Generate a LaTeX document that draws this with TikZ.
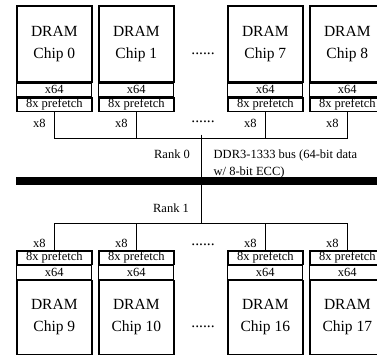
\documentclass[tikz,border=0pt]{standalone}
\usepackage{fontspec}
\setmainfont{Liberation Serif}
\begin{document}
\begin{tikzpicture}[x=1pt,y=-1pt,
  bigf/.style={font=\fontsize{15.5}{21.7}\selectfont},
  smallf/.style={font=\fontsize{12.5}{16.7}\selectfont},
  mainbox/.style={draw,line width=1.6pt,minimum width=75pt,minimum height=76pt,inner sep=0pt,align=center,bigf},
  stripthin/.style={draw,line width=0.9pt,minimum width=75pt,minimum height=13.5pt,inner sep=0pt,smallf},
  stripthick/.style={draw,line width=1.6pt,minimum width=75pt,minimum height=13.5pt,inner sep=0pt,smallf},
  wire/.style={line width=0.9pt},
  lbl/.style={smallf,inner sep=0pt}]
\useasboundingbox (0,0) rectangle (377,354);
% top rank
\foreach \n/\x in {0/16,1/98,7/227,8/309}{
  \node[mainbox,anchor=north west] (m\n) at (\x,5) {DRAM\\Chip \n};
  \node[stripthin,anchor=north] (x\n) at (m\n.south) {x64};
  \node[stripthick,anchor=north] (p\n) at (x\n.south) {8x prefetch};
  \node[lbl] (e\n) at ([xshift=-15pt,yshift=-11pt]p\n.south) {x8};
}
% bottom rank
\foreach \n/\x in {9/16,10/98,16/227,17/309}{
  \node[stripthick,anchor=north west] (p\n) at (\x,250) {8x prefetch};
  \node[stripthin,anchor=north] (x\n) at (p\n.south) {x64};
  \node[mainbox,anchor=north,minimum height=74pt] (m\n) at (x\n.south) {DRAM\\Chip \n};
  \node[lbl] (e\n) at ([xshift=-15pt,yshift=7pt]p\n.north) {x8};
}
% dots
\node[bigf,anchor=base,inner sep=0pt] (d1) at (203,54.5) {......};
\node[bigf,anchor=base,inner sep=0pt] (d2) at (203,122) {......};
\node[bigf,anchor=base,inner sep=0pt] (d3) at (203,245.5) {......};
\node[bigf,anchor=base,inner sep=0pt] (d4) at (203,327.5) {......};
% top wiring
\draw[wire] (p0.south) -- ++(0,26.5) -| (p8.south);
\draw[wire] (p1.south) -- ++(0,26.5);
\draw[wire] (p7.south) -- ++(0,26.5);
% bottom wiring
\draw[wire] (p9.north) -- ++(0,-26.7) -| (p17.north);
\draw[wire] (p10.north) -- ++(0,-26.7);
\draw[wire] (p16.north) -- ++(0,-26.7);
% bus
\coordinate (bt) at (201,134.5);
\coordinate (bb) at (201,223.3);
\draw[wire] (bt) -- (bb);
\fill (16,177) rectangle (377,185);
\node[lbl] (r0) at (172,154) {Rank 0};
\node[lbl] (r1) at (171,208) {Rank 1};
\node[lbl,anchor=north west,align=left] (bus) at (213.5,149.5) {DDR3-1333 bus (64-bit data\\w/ 8-bit ECC)};
\end{tikzpicture}
\end{document}
